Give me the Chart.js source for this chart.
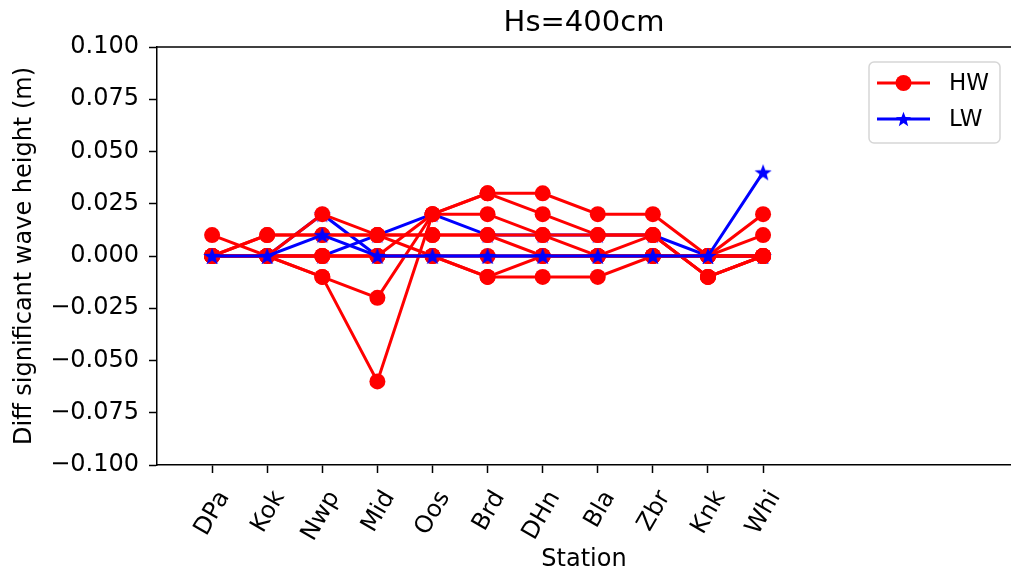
<!DOCTYPE html>
<html>
<head>
<meta charset="utf-8">
<script src="https://cdn.jsdelivr.net/npm/chart.js@4.4.1/dist/chart.umd.min.js"></script>
<style>
  html, body { margin: 0; padding: 0; background: #fff; }
  canvas { display: block; }
</style>
</head>
<body>
<canvas id="waveChart" width="1011" height="574"></canvas>
<script>
// stations along the coast
const stations = ['DPa', 'Kok', 'Nwp', 'Mid', 'Oos', 'Brd', 'DHn', 'Bla', 'Zbr', 'Knk', 'Whi'];

// difference in significant wave height (m), high water runs
const hw1 = [0.00, 0.00, 0.02, 0.01, 0.01, 0.01, 0.01, 0.01, 0.01, -0.01, 0.00];
const hw2 = [0.00, 0.01, 0.01, 0.01, 0.01, 0.01, 0.00, 0.00, 0.00, 0.00, 0.00];
const hw3 = [0.00, 0.01, 0.01, 0.01, 0.00, -0.01, 0.00, 0.00, 0.00, 0.00, 0.01];
const hw4 = [0.01, 0.00, 0.00, 0.00, 0.02, 0.03, 0.03, 0.02, 0.02, 0.00, 0.02];
const hw5 = [0.00, 0.00, 0.00, 0.00, 0.00, -0.01, -0.01, -0.01, 0.00, 0.00, 0.00];
const hw6 = [0.00, 0.00, 0.00, 0.00, 0.00, 0.00, 0.00, 0.00, 0.00, 0.00, 0.00];
const hw7 = [0.00, 0.00, -0.01, -0.02, 0.02, 0.03, 0.02, 0.01, 0.01, -0.01, 0.00];
const hw8 = [0.00, 0.00, -0.01, -0.06, 0.02, 0.02, 0.01, 0.00, 0.01, -0.01, 0.00];

// low water runs
const lw1 = [0.00, 0.00, 0.01, 0.00, 0.00, 0.00, 0.00, 0.00, 0.00, 0.00, 0.04];
const lw2 = [0.00, 0.00, 0.00, 0.01, 0.02, 0.01, 0.01, 0.01, 0.01, 0.00, 0.00];
const lw3 = [0.00, 0.00, 0.02, 0.00, 0.00, 0.00, 0.00, 0.00, 0.00, 0.00, 0.00];

const yTicks = [-0.100, -0.075, -0.050, -0.025, 0.000, 0.025, 0.050, 0.075, 0.100];

const RED = '#ff0000';
const BLUE = '#0000ff';
const FONT = "'DejaVu Sans', sans-serif";

function drawStar(ctx, cx, cy, r, color) {
  ctx.beginPath();
  for (let i = 0; i < 10; i++) {
    const rad = i % 2 === 0 ? r : r * 0.42;
    const a = -Math.PI / 2 + i * Math.PI / 5;
    const px = cx + rad * Math.cos(a), py = cy + rad * Math.sin(a);
    if (i === 0) ctx.moveTo(px, py); else ctx.lineTo(px, py);
  }
  ctx.closePath();
  ctx.fillStyle = color;
  ctx.fill();
}

function starImage(r, color) {
  const c = document.createElement('canvas');
  c.width = c.height = Math.ceil(r * 2 + 2);
  drawStar(c.getContext('2d'), c.width / 2, c.height / 2 + 0.7, r, color);
  return c;
}
const star = starImage(9, BLUE);

const toXY = arr => arr.map((v, i) => ({ x: i, y: v }));

const hwSet = [hw1, hw2, hw3, hw4, hw5, hw6, hw7, hw8].map(arr => ({
  label: 'HW',
  data: toXY(arr),
  borderColor: RED,
  backgroundColor: RED,
  borderWidth: 3,
  pointRadius: 8,
  pointHoverRadius: 8,
  pointBackgroundColor: RED,
  pointBorderColor: RED,
  pointBorderWidth: 0,
  order: 1
}));

const lwStyle = (arr, order) => ({
  label: 'LW',
  data: toXY(arr),
  borderColor: BLUE,
  backgroundColor: BLUE,
  borderWidth: 3,
  pointStyle: star,
  pointRadius: 9,
  order: order
});

// title over the axes, top spine and a matplotlib-like legend box
const framePlugin = {
  id: 'frame',
  afterDraw(chart) {
    const { ctx, chartArea } = chart;
    ctx.save();
    ctx.fillStyle = '#000';
    ctx.font = `29px ${FONT}`;
    ctx.textAlign = 'center';
    ctx.textBaseline = 'middle';
    ctx.fillText('Hs=400cm', (chartArea.left + chartArea.right) / 2, 23);

    ctx.strokeStyle = '#000';
    ctx.lineWidth = 1.5;
    ctx.beginPath();
    ctx.moveTo(chartArea.left, chartArea.top);
    ctx.lineTo(chartArea.right, chartArea.top);
    ctx.stroke();

    // legend
    const bx = 869, by = 62, bw = 131, bh = 81, r = 5;
    ctx.beginPath();
    ctx.moveTo(bx + r, by);
    ctx.arcTo(bx + bw, by, bx + bw, by + bh, r);
    ctx.arcTo(bx + bw, by + bh, bx, by + bh, r);
    ctx.arcTo(bx, by + bh, bx, by, r);
    ctx.arcTo(bx, by, bx + bw, by, r);
    ctx.closePath();
    ctx.fillStyle = 'rgba(255,255,255,0.8)';
    ctx.fill();
    ctx.strokeStyle = '#d6d6d6';
    ctx.lineWidth = 1.5;
    ctx.stroke();

    const rows = [
      { text: 'HW', color: RED, y: 83, circle: true },
      { text: 'LW', color: BLUE, y: 119, circle: false }
    ];
    rows.forEach(row => {
      ctx.strokeStyle = row.color;
      ctx.lineWidth = 3;
      ctx.beginPath();
      ctx.moveTo(877, row.y);
      ctx.lineTo(930, row.y);
      ctx.stroke();
      if (row.circle) {
        ctx.fillStyle = row.color;
        ctx.beginPath();
        ctx.arc(903.5, row.y, 8, 0, Math.PI * 2);
        ctx.fill();
      } else {
        drawStar(ctx, 903.5, row.y + 0.7, 8, row.color);
      }
      ctx.fillStyle = '#000';
      ctx.font = `23px ${FONT}`;
      ctx.textBaseline = 'middle';
      ctx.textAlign = 'left';
      ctx.fillText(row.text, 949, row.y + 1);
    });
    ctx.restore();
  }
};

new Chart(document.getElementById('waveChart'), {
  type: 'line',
  data: {
    datasets: [lwStyle(lw1, 0), ...hwSet, lwStyle(lw2, 2), lwStyle(lw3, 2)]
  },
  options: {
    responsive: false,
    animation: false,
    layout: { padding: { top: 47, left: 0, right: 0, bottom: 0 }, autoPadding: false },
    plugins: {
      legend: { display: false },
      tooltip: { enabled: false },
      title: { display: false }
    },
    scales: {
      x: {
        type: 'linear',
        min: -1,
        max: 14.5,
        afterBuildTicks: scale => { scale.ticks = stations.map((_, i) => ({ value: i })); },
        afterFit: scale => {
          scale.height = 109;
          scale.paddingLeft = 0;
          scale.paddingRight = 0;
        },
        ticks: {
          callback: v => stations[v],
          autoSkip: false,
          minRotation: 60,
          maxRotation: 60,
          labelOffset: 12,
          padding: 13,
          color: '#000',
          font: { family: FONT, size: 24 }
        },
        grid: { display: true, drawOnChartArea: false, drawTicks: true, tickLength: 8, tickWidth: 1.5, tickColor: '#000' },
        border: { display: true, color: '#000', width: 1.5 },
        title: {
          display: true,
          text: 'Station',
          color: '#000',
          font: { family: FONT, size: 24 },
          padding: { bottom: 0 }
        }
      },
      y: {
        min: -0.1,
        max: 0.1,
        afterBuildTicks: scale => { scale.ticks = yTicks.map(v => ({ value: v })); },
        afterFit: scale => { scale.width = 157; },
        ticks: {
          callback: v => v.toFixed(3).replace('-', '\u2212'),
          padding: 10,
          color: '#000',
          font: { family: FONT, size: 24 }
        },
        grid: { display: true, drawOnChartArea: false, drawTicks: true, tickLength: 8, tickWidth: 1.5, tickColor: '#000' },
        border: { display: true, color: '#000', width: 1.5 },
        title: {
          display: true,
          text: 'Diff significant wave height (m)',
          color: '#000',
          font: { family: FONT, size: 24 },
          padding: { top: 10 }
        }
      }
    }
  },
  plugins: [framePlugin]
});
</script>
</body>
</html>
